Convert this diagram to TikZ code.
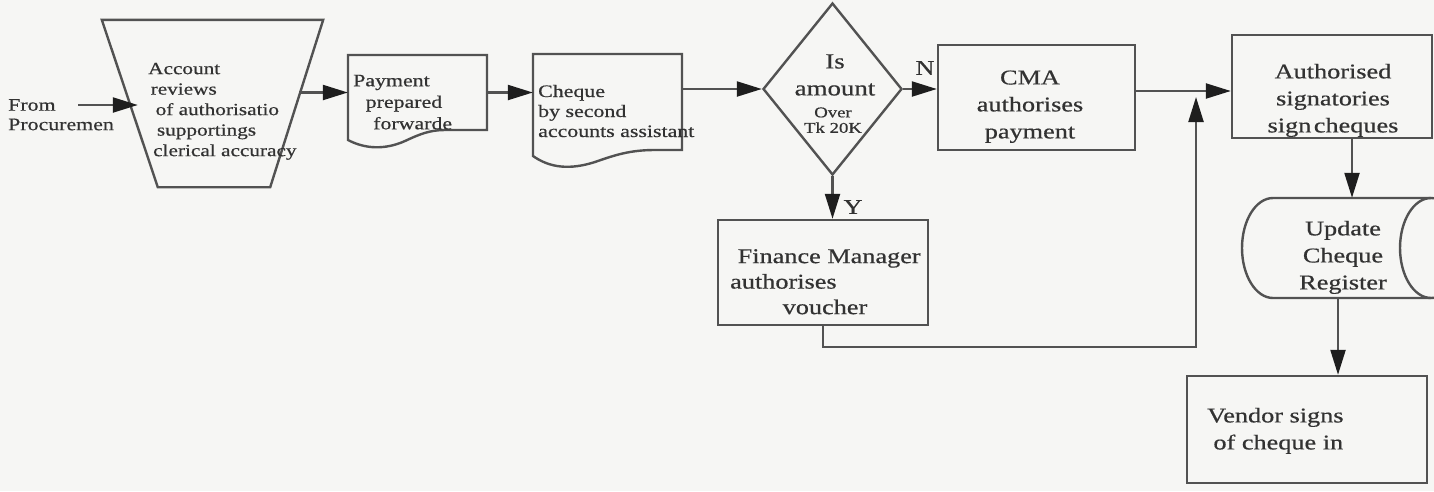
\documentclass[tikz,border=0pt]{standalone}
\usepackage{fontspec}
\setmainfont{Liberation Serif}[FakeBold=0.5]
\usepackage{graphicx}
\usetikzlibrary{arrows.meta,shapes.geometric,calc}

\definecolor{ink}{RGB}{50,50,50}
\definecolor{edge}{RGB}{82,82,82}
\definecolor{tipc}{RGB}{30,30,30}
\definecolor{paper}{RGB}{246,246,244}

% text blocks, widened
\newcommand{\lblock}[3]{\scalebox{1.25}[1]{\fontsize{#1}{#2}\selectfont\begin{tabular}{@{}l@{}}#3\end{tabular}}}
\newcommand{\cblock}[3]{\scalebox{1.25}[1]{\fontsize{#1}{#2}\selectfont\begin{tabular}{@{}c@{}}#3\end{tabular}}}

\tikzset{
  txt/.style={inner sep=0pt, text=ink},
  outline/.style={draw=edge, line width=2.4pt, line join=miter},
  box/.style={outline, rectangle, inner sep=0pt},
  anchorbox/.style={rectangle, draw=none, inner sep=0pt},
  arr/.style={draw=edge, line width=2.2pt, -{Triangle[length=25pt,width=15pt,color=tipc]}},
}

\begin{document}
\begin{tikzpicture}[x=1pt, y=-1pt]
\useasboundingbox (0,0) rectangle (1434,491);
\fill[paper] (0,0) rectangle (1434,491);
\clip (0,0) rectangle (1434,491);

% source label
\node[txt, anchor=west] (src) at (8,116.5) {\lblock{17.5}{19.5}{From\\Procuremen}};
\coordinate (inS) at (78,105);

% manual operation (inverted trapezium)
\node[anchorbox, minimum width=221pt, minimum height=167pt] (acct) at (212.5,103.5) {};
\draw[outline] (acct.north west) -- (acct.north east)
  -- ([xshift=-53pt]acct.south east) -- ([xshift=56pt]acct.south west) -- cycle;
\node[txt, anchor=west] (acctt) at (148,111)
  {\lblock{17}{20.5}{Account\\\hspace{2pt}reviews\\\hspace{6pt}of authorisatio\\\hspace{7pt}supportings\\\hspace{4pt}clerical accuracy}};

% first document
\node[anchorbox, minimum width=139pt, minimum height=75pt] (doc1) at (417.5,92.5) {};
\draw[outline] (348,140) -- (348,55) -- (487,55) -- (487,130) -- (445,130)
  .. controls (430,130) and (420,134) .. (405,141)
  .. controls (385,150) and (365,149) .. (348,140) -- cycle;
\node[txt, anchor=west] (doc1t) at (353,103.5)
  {\lblock{17.5}{21.5}{Payment\\\hspace{10pt}prepared\\\hspace{16pt}forwarde}};

% second document
\node[anchorbox, minimum width=149pt, minimum height=96pt] (doc2) at (607.5,102) {};
\draw[outline] (533,156) -- (533,54) -- (682,54) -- (682,150) -- (655,150)
  .. controls (630,150) and (615,155) .. (595,162)
  .. controls (570,170) and (550,168) .. (533,156) -- cycle;
\node[txt, anchor=west] (doc2t) at (538,113)
  {\lblock{17.5}{20}{Cheque\\by second\\accounts assistant}};

% decision
\node[outline, diamond, minimum width=139pt, minimum height=172pt, inner sep=0pt] (dec) at (832.5,89) {};
\node[txt] (dect1) at (835,76.5) {\cblock{21.5}{27}{Is\\amount}};
\node[txt] (dect2) at (833,122) {\cblock{15}{15.5}{Over\\Tk 20K}};
\node[txt] (nlab) at (925,68) {\scalebox{1.25}[1]{\fontsize{21}{24}\selectfont N}};
\node[txt] (ylab) at (853,207) {\scalebox{1.25}[1]{\fontsize{21}{24}\selectfont Y}};

% process boxes
\node[box, minimum width=197pt, minimum height=105pt] (cma) at (1036.5,97.5) {};
\node[txt] (cmat) at (1030,106) {\cblock{21}{27}{CMA\\authorises\\payment}};

\node[box, minimum width=200pt, minimum height=103pt] (auth) at (1332,86.5) {};
\node[txt] (autht) at (1333,100) {\cblock{21}{27}{Authorised\\signatories\\sign\hspace{2pt}cheques}};

\node[box, minimum width=210pt, minimum height=105pt] (fm) at (823,272.5) {};
\node[txt, anchor=west] (fmt) at (730,283.5)
  {\lblock{21}{25.5}{\hspace{6pt}Finance Manager\\authorises\\\hspace{42pt}voucher}};

\node[box, minimum width=240pt, minimum height=107pt] (vend) at (1307,429.5) {};
\node[txt, anchor=west] (vendt) at (1207,430.5) {\lblock{21}{27}{Vendor signs\\\hspace{5pt}of cheque in}};

% stored data drum
\node[anchorbox, minimum width=220pt, minimum height=100pt] (drum) at (1352,248) {};
\draw[outline] (1431,198) -- (1273,198)
  arc[start angle=270, end angle=90, x radius=31, y radius=50] -- (1431,298);
\draw[outline] (1431,248) ellipse[x radius=31, y radius=50];
\node[txt] (drumt) at (1343,257) {\cblock{21}{27}{Update\\Cheque\\Register}};

% connectors
\coordinate (j) at (1196,91);
\coordinate (k) at (1196,347);
\draw[arr] (inS) -- ([xshift=36pt]acct.west |- inS);
\draw[arr] ([xshift=-24pt]acct.east |- doc1.west) -- (doc1.west);
\draw[arr] (doc1.east) -- (doc1.east -| doc2.west);
\draw[arr] (dec.west -| doc2.east) -- (dec.west);
\draw[arr] (dec.east) -- (dec.east -| cma.west);
\draw[arr] (dec.south) -- (dec.south |- fm.north);
\draw[arr] (cma.east |- j) -- (j -| auth.west);
\draw[arr, shorten >=6pt] (fm.south) |- (k) -- (j);
\draw[arr] (auth.south -| drum.north) -- (drum.north);
\draw[arr] ([xshift=-14pt]drum.south) -- ([xshift=-14pt]drum.south |- vend.north);
\end{tikzpicture}
\end{document}
